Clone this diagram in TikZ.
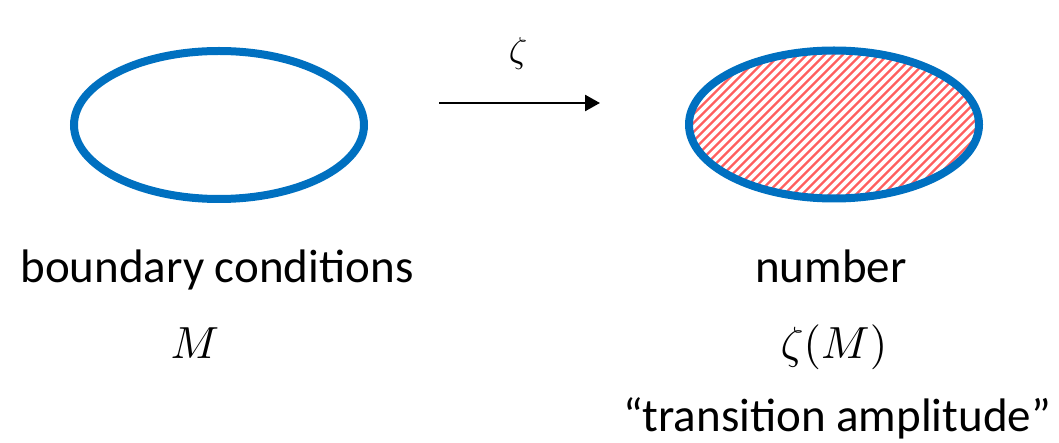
\documentclass[tikz,border=0pt]{standalone}
\usepackage{graphicx}
\usepackage[no-math]{fontspec}
\setmainfont{Carlito}
\usetikzlibrary{arrows.meta,shapes.geometric}
\definecolor{oblue}{HTML}{0070C0}
\definecolor{hred}{HTML}{FF5F5F}
\newcommand{\bigmath}[2]{\scalebox{#1}{$#2$}}
\tikzset{
  oval/.style={ellipse, inner sep=0pt, minimum width=290pt, minimum height=148pt},
  rim/.style={draw=oblue, line width=8pt},
  hatchline/.style={hred, line width=2.2pt},
  txt/.style={anchor=base, inner sep=0pt, font=\fontsize{47}{56}\selectfont},
  mth/.style={anchor=base, inner sep=0pt},
  arr/.style={-{Triangle[length=15pt,width=16pt]}, line width=2.5pt},
}
\begin{document}
\begin{tikzpicture}[x=1pt,y=-1pt]
\useasboundingbox (0,0) rectangle (1059,443);
\node[oval, rim] (L) at (219,125) {};
\node[oval, path picture={
  \foreach \k in {0,...,52}
    \draw[hatchline] ([xshift=\k*9pt-170pt]path picture bounding box.south west) -- ++(200,-200);
}] (R) at (834,124.5) {};
\draw[rim] (R.center) ellipse[x radius=145pt, y radius=74pt];
\coordinate (a1) at (439,103);
\coordinate (a2) at (600,103);
\draw[arr] (a1) -- (a2);
\node[mth] (z) at (518,63) {\bigmath{3.6}{\zeta}};
\node[txt] (bc) at (217,283) {boundary conditions};
\node[mth] (M) at (195,358) {\bigmath{4.5}{M}};
\node[txt] (num) at (831,283) {number};
\node[mth] (zM) at (834,358) {\bigmath{4.5}{\zeta(M)}};
\node[txt] (ta) at (837,431) {“transition amplitude”};
\end{tikzpicture}
\end{document}
